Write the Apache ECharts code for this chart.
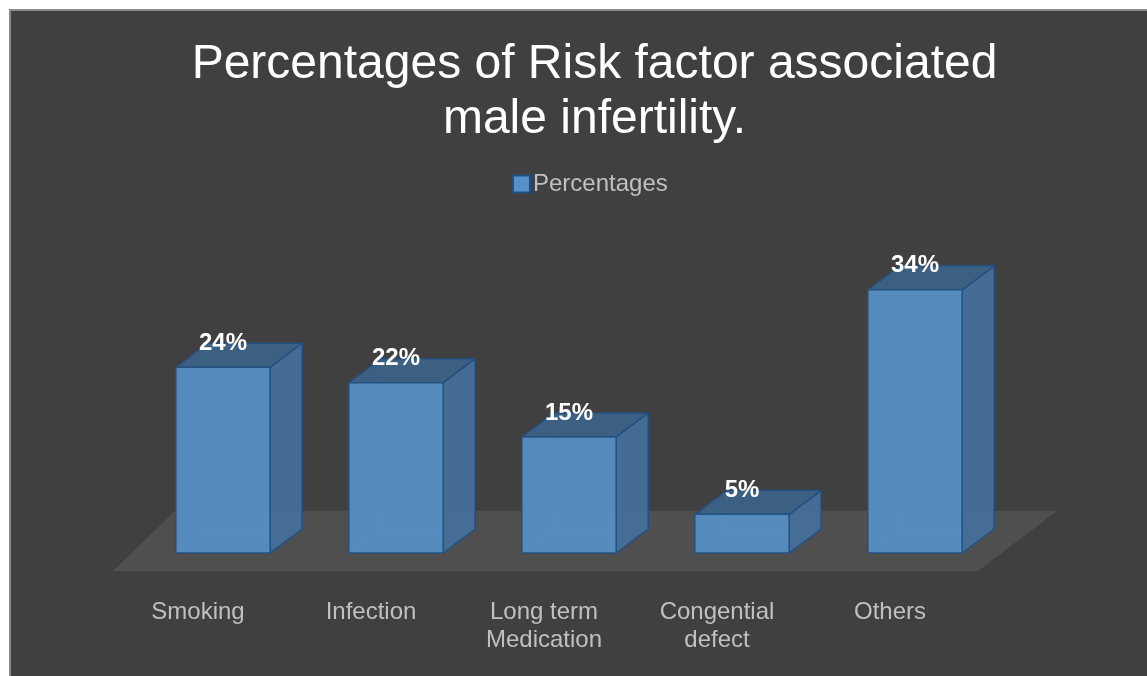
<!DOCTYPE html>
<html>
<head>
<meta charset="utf-8">
<script src="https://cdn.jsdelivr.net/npm/echarts@6/dist/echarts.min.js"></script>
<style>html,body{margin:0;padding:0;background:#fff;}#c{width:1147px;height:676px;}</style>
</head>
<body>
<div id="c"></div>
<script>
var categories = ['Smoking', 'Infection', 'Long term\nMedication', 'Congential\ndefect', 'Others'];
var percentages = [24, 22, 15, 5, 34];
var seriesName = 'Percentages';
var titleText = 'Percentages of Risk factor associated\nmale infertility.';

var chart = echarts.init(document.getElementById('c'), null, {renderer: 'canvas'});
var DX = 32, DY = -24;
var FRONT = '#5690c6', SIDE = '#456f99', TOP = '#3b6286', EDGE = '#234f80';

function renderItem(params, api) {
  var idx = api.value(0), val = api.value(1);
  var top = api.coord([idx, val]);
  var base = api.coord([idx, 0]);
  var band = api.size([1, 0])[0];
  var w = band * 0.545;
  var l = top[0] - w / 2, r = top[0] + w / 2, t = top[1], b = base[1];
  var edge = {stroke: EDGE, lineWidth: 1.5, lineJoin: 'round'};
  return {
    type: 'group',
    children: [
      {type: 'polyline', shape: {points: [[l, b], [l + DX, b + DY], [r + DX, b + DY]]}, style: {stroke: '#6aa2d8', lineWidth: 1, fill: null, opacity: 0.5}},
      {type: 'line', shape: {x1: l + DX, y1: b + DY, x2: l + DX, y2: t + DY}, style: {stroke: '#6aa2d8', lineWidth: 1, opacity: 0.5}},
      {type: 'polygon', shape: {points: [[r, t], [r + DX, t + DY], [r + DX, b + DY], [r, b]]}, style: Object.assign({fill: SIDE, opacity: 0.95}, edge)},
      {type: 'polygon', shape: {points: [[l, t], [l + DX, t + DY], [r + DX, t + DY], [r, t]]}, style: Object.assign({fill: TOP, opacity: 0.95}, edge)},
      {type: 'rect', shape: {x: l, y: t, width: w, height: b - t}, style: Object.assign({fill: FRONT, opacity: 0.93}, edge)},
      {type: 'text', x: top[0], y: t - 24, style: {text: val + '%', fill: '#ffffff', font: 'bold 24px "Liberation Sans", Arial, sans-serif', align: 'center', verticalAlign: 'middle'}}
    ]
  };
}

var option = {
  backgroundColor: '#ffffff',
  animation: false,
  title: {
    text: titleText,
    left: 594.5,
    textAlign: 'center',
    top: 37,
    padding: 0,
    textStyle: {color: '#ffffff', fontSize: 48, fontWeight: 'normal', lineHeight: 55, fontFamily: '"Liberation Sans", Arial, sans-serif', align: 'center'}
  },
  legend: {
    left: 507,
    top: 167,
    itemWidth: 17,
    itemHeight: 17,
    itemGap: 10,
    icon: 'rect',
    textStyle: {color: '#c0c0c0', fontSize: 24, fontFamily: '"Liberation Sans", Arial, sans-serif', padding: [0, 0, 0, -2]},
    data: [{name: seriesName, itemStyle: {color: '#5690c6', borderColor: '#234f80', borderWidth: 2}}]
  },
  graphic: [
    {type: 'rect', z: -10, shape: {x: 10, y: 10, width: 1150, height: 680}, style: {fill: '#404040', stroke: '#8a8a8a', lineWidth: 2}},
    {type: 'polygon', z: -5, shape: {points: [[113, 571], [978, 571], [1057, 511], [175, 511]]}, style: {fill: '#4f4f4f'}}
  ],
  grid: {left: 136.5, right: 145.5, top: 243.4, bottom: 123},
  xAxis: {
    type: 'category',
    data: categories,
    axisLine: {show: false},
    axisTick: {show: false},
    splitLine: {show: false},
    axisLabel: {
      color: '#c0c0c0',
      fontSize: 24,
      lineHeight: 28,
      margin: 45,
      interval: 0,
      padding: [0, 50, 0, 0],
      fontFamily: '"Liberation Sans", Arial, sans-serif'
    }
  },
  yAxis: {type: 'value', min: 0, max: 40, interval: 10, show: false, splitLine: {show: false}},
  series: [{
    name: seriesName,
    type: 'custom',
    z: 10,
    renderItem: renderItem,
    itemStyle: {color: FRONT, borderColor: EDGE, borderWidth: 1.5},
    encode: {x: 0, y: 1},
    data: percentages.map(function (v, i) { return [i, v]; })
  }]
};
chart.setOption(option);
</script>
</body>
</html>
